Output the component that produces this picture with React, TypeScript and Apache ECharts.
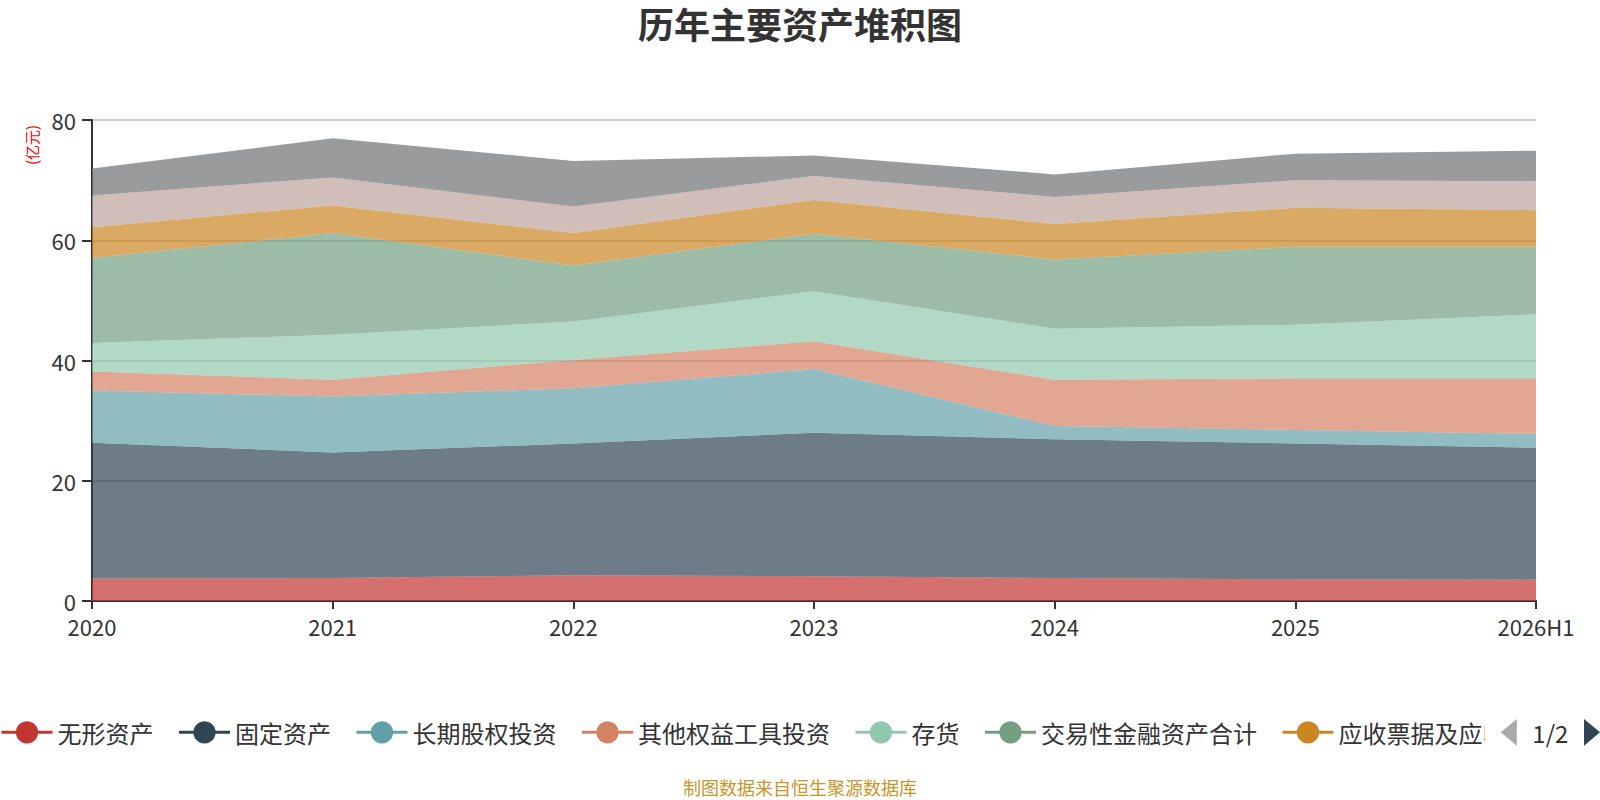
import { useEffect, useRef } from 'react'
import * as echarts from 'echarts'

// 报告期
const periods = ['2020', '2021', '2022', '2023', '2024', '2025', '2026H1']

// 各项资产 (亿元)
const intangibleAssets = [3.73, 3.83, 4.28, 4.1, 3.83, 3.6, 3.55]
const fixedAssets = [22.6, 20.87, 21.92, 23.9, 23.07, 22.6, 21.95]
const longTermEquity = [8.67, 9.3, 9.2, 10.6, 2.2, 2.25, 2.3]
const otherEquityInstruments = [3.17, 2.8, 4.7, 4.6, 7.7, 8.6, 9.25]
const inventory = [4.73, 7.5, 6.4, 8.3, 8.5, 8.9, 10.65]
const tradingFinancialAssets = [14.17, 16.9, 9.3, 9.6, 11.5, 12.95, 11.2]
const receivables = [5.1, 4.6, 5.4, 5.6, 5.9, 6.5, 6.1]
const prepayments = [5.28, 4.65, 4.4, 4.0, 4.5, 4.6, 4.8]
const otherReceivables = [4.5, 6.5, 7.6, 3.4, 3.75, 4.4, 5.1]

const seriesNames = [
  '无形资产',
  '固定资产',
  '长期股权投资',
  '其他权益工具投资',
  '存货',
  '交易性金融资产合计',
  '应收票据及应收账款',
  '预付款项',
  '其他应收款'
]
const seriesData = [
  intangibleAssets,
  fixedAssets,
  longTermEquity,
  otherEquityInstruments,
  inventory,
  tradingFinancialAssets,
  receivables,
  prepayments,
  otherReceivables
]
const colors = [
  '#c23531', '#2f4554', '#61a0a8', '#d48265', '#91c7ae',
  '#749f83', '#ca8622', '#bda29a', '#6e7074'
]

const yTicks = [0, 20, 40, 60, 80]

export default function App() {
  const chartRef = useRef<HTMLDivElement>(null)

  useEffect(() => {
    if (!chartRef.current) return
    const chart = echarts.init(chartRef.current, null, { renderer: 'svg' })

    const option: echarts.EChartsOption = {
      animation: false,
      backgroundColor: '#ffffff',
      color: colors,
      textStyle: { fontFamily: 'Noto Sans CJK SC' },
      title: [
        {
          text: '历年主要资产堆积图',
          left: 'center',
          top: 3,
          padding: [2, 5, 2, 5],
          textStyle: { fontSize: 36, fontWeight: 'bold', color: '#333' }
        },
        {
          text: '制图数据来自恒生聚源数据库',
          left: 'center',
          top: 778,
          padding: 0,
          textStyle: { fontSize: 18, fontWeight: 'normal', color: '#c8952b' }
        }
      ],
      graphic: [
        {
          type: 'text',
          x: 31,
          y: 145,
          rotation: Math.PI / 2,
          style: {
            text: '(亿元)',
            fill: '#ff0000',
            font: '15px "Noto Sans CJK SC"',
            textAlign: 'center',
            textVerticalAlign: 'middle'
          }
        }
      ],
      legend: {
        type: 'scroll',
        left: 0,
        right: 3,
        top: 719,
        padding: 0,
        itemWidth: 51,
        itemHeight: 28,
        itemGap: 24,
        lineStyle: { width: 3 },
        textStyle: { fontSize: 24, color: '#333' },
        pageIconColor: '#2f4554',
        pageIconInactiveColor: '#aaa',
        pageIconSize: [16, 30],
        pageButtonItemGap: 5,
        pageButtonGap: 16,
        pageTextStyle: { fontSize: 24, color: '#333' },
        data: seriesNames
      },
      grid: {
        left: 92,
        right: 64,
        top: 120,
        bottom: 199,
        containLabel: false
      },
      xAxis: {
        type: 'category',
        data: periods,
        boundaryGap: false,
        axisLine: { show: true, lineStyle: { color: '#333', width: 2 } },
        axisTick: { show: true, length: 8, lineStyle: { color: '#333', width: 2 } },
        axisLabel: { fontSize: 22, lineHeight: 22, color: '#333', margin: 14 },
        splitLine: { show: false }
      },
      yAxis: {
        type: 'value',
        min: yTicks[0],
        max: yTicks[yTicks.length - 1],
        interval: 20,
        axisLine: { show: true, lineStyle: { color: '#333', width: 2 } },
        axisTick: { show: true, length: 10, lineStyle: { color: '#333', width: 2 } },
        axisLabel: { fontSize: 22, lineHeight: 22, color: '#333', margin: 16 },
        splitLine: { show: true, lineStyle: { color: '#ccc', width: 2 } }
      },
      series: seriesNames.map((name, i) => ({
        name,
        type: 'line',
        stack: 'total',
        data: seriesData[i],
        symbol: 'circle',
        showSymbol: false,
        lineStyle: { width: 0 },
        areaStyle: { opacity: 0.7 },
        emphasis: { disabled: true }
      }))
    }

    chart.setOption(option)

    return () => {
      chart.dispose()
    }
  }, [])

  return (
    <div
      ref={chartRef}
      style={{ position: 'fixed', left: 0, top: 0, width: '1600px', height: '800px' }}
    />
  )
}
